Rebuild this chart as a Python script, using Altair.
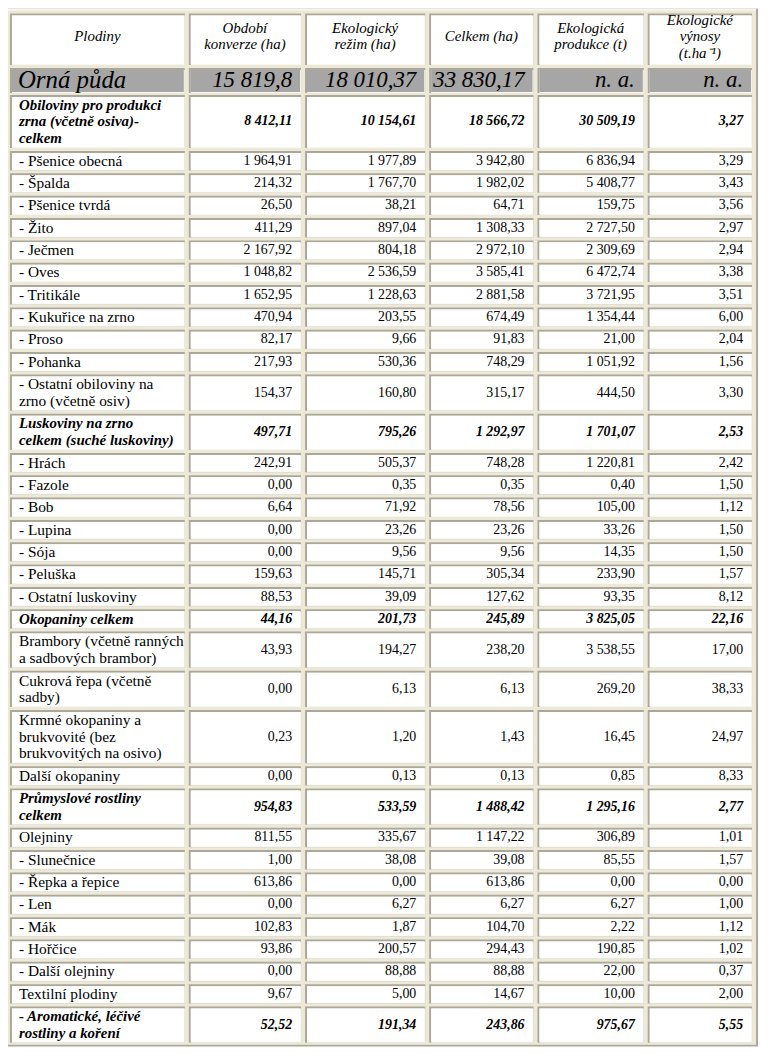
import altair as alt
import pandas as pd

# ---------------- data ----------------
headers = ["Plodiny", "Období\nkonverze  (ha)", "Ekologický\nrežim (ha)", "Celkem (ha)",
           "Ekologická\nprodukce (t)", "Ekologické\nvýnosy\n(t.ha⁻¹)"]

plodiny = [
    "Orná půda",
    "Obiloviny pro produkci\nzrna (včetně osiva)-\ncelkem",
    "- Pšenice obecná", "- Špalda", "- Pšenice tvrdá", "- Žito", "- Ječmen", "- Oves",
    "- Tritikále", "- Kukuřice na zrno", "- Proso", "- Pohanka",
    "- Ostatní obiloviny na\nzrno (včetně osiv)",
    "Luskoviny na zrno\ncelkem (suché luskoviny)",
    "- Hrách", "- Fazole", "- Bob", "- Lupina", "- Sója", "- Peluška", "- Ostatní luskoviny",
    "Okopaniny celkem",
    "Brambory (včetně ranných\na sadbových brambor)",
    "Cukrová řepa (včetně\nsadby)",
    "Krmné okopaniny a\nbrukvovité (bez\nbrukvovitých na osivo)",
    "Další okopaniny",
    "Průmyslové rostliny\ncelkem",
    "Olejniny", "- Slunečnice", "- Řepka a řepice", "- Len", "- Mák", "- Hořčice",
    "- Další olejniny", "Textilní plodiny",
    "- Aromatické, léčivé\nrostliny a koření",
]

# row kind: "celkem" = arable land total, "skupina" = subtotal, "polozka" = item
druh = (["celkem", "skupina"] + ["polozka"] * 11 + ["skupina"] + ["polozka"] * 7 +
        ["skupina"] + ["polozka"] * 4 + ["skupina"] + ["polozka"] * 8 + ["skupina"])

obdobi_konverze = ["15 819,8", "8 412,11", "1 964,91", "214,32", "26,50", "411,29", "2 167,92",
                   "1 048,82", "1 652,95", "470,94", "82,17", "217,93", "154,37", "497,71",
                   "242,91", "0,00", "6,64", "0,00", "0,00", "159,63", "88,53", "44,16",
                   "43,93", "0,00", "0,23", "0,00", "954,83", "811,55", "1,00", "613,86",
                   "0,00", "102,83", "93,86", "0,00", "9,67", "52,52"]

eko_rezim = ["18 010,37", "10 154,61", "1 977,89", "1 767,70", "38,21", "897,04", "804,18",
             "2 536,59", "1 228,63", "203,55", "9,66", "530,36", "160,80", "795,26",
             "505,37", "0,35", "71,92", "23,26", "9,56", "145,71", "39,09", "201,73",
             "194,27", "6,13", "1,20", "0,13", "533,59", "335,67", "38,08", "0,00",
             "6,27", "1,87", "200,57", "88,88", "5,00", "191,34"]

celkem_ha = ["33 830,17", "18 566,72", "3 942,80", "1 982,02", "64,71", "1 308,33", "2 972,10",
             "3 585,41", "2 881,58", "674,49", "91,83", "748,29", "315,17", "1 292,97",
             "748,28", "0,35", "78,56", "23,26", "9,56", "305,34", "127,62", "245,89",
             "238,20", "6,13", "1,43", "0,13", "1 488,42", "1 147,22", "39,08", "613,86",
             "6,27", "104,70", "294,43", "88,88", "14,67", "243,86"]

eko_produkce = ["n. a.", "30 509,19", "6 836,94", "5 408,77", "159,75", "2 727,50", "2 309,69",
                "6 472,74", "3 721,95", "1 354,44", "21,00", "1 051,92", "444,50", "1 701,07",
                "1 220,81", "0,40", "105,00", "33,26", "14,35", "233,90", "93,35", "3 825,05",
                "3 538,55", "269,20", "16,45", "0,85", "1 295,16", "306,89", "85,55", "0,00",
                "6,27", "2,22", "190,85", "22,00", "10,00", "975,67"]

eko_vynosy = ["n. a.", "3,27", "3,29", "3,43", "3,56", "2,97", "2,94", "3,38", "3,51", "6,00",
              "2,04", "1,56", "3,30", "2,53", "2,42", "1,50", "1,12", "1,50", "1,50", "1,57",
              "8,12", "22,16", "17,00", "38,33", "24,97", "8,33", "2,77", "1,01", "1,57",
              "0,00", "1,00", "1,12", "1,02", "0,37", "2,00", "5,55"]

value_cols = [obdobi_konverze, eko_rezim, celkem_ha, eko_produkce, eko_vynosy]

# ---------------- layout (page pixels) ----------------
OFF = 5                      # chart origin in page pixels
W, H = 760, 1050
COL_L = [10, 190, 307, 432, 541, 652]
COL_R = [186, 303, 428, 537, 648, 757]
FRAME = (5, 763, 5, 1050)
HEAD = (10, 62)
FIRST = (65, 90)
BODY_TOP = 92
ROW_BASE, LINE_H, GAP = 5.49, 17.0, 3
HEAD_LH = 16.5

rows = [HEAD, FIRST]
y = BODY_TOP
for lab in plodiny[1:]:
    n = lab.count("\n") + 1
    pitch = ROW_BASE + LINE_H * n
    rows.append((y, y + pitch - GAP))
    y += pitch

cells, texts = [], []
for r, (t, b) in enumerate(rows):
    kind = "hlavicka" if r == 0 else druh[r - 1]
    fill = "#a6a6a6" if kind == "celkem" else "#ffffff"
    for c in range(6):
        l, rr = COL_L[c], COL_R[c]
        cells.append(dict(x=l - OFF, x2=rr - OFF, y=t - OFF, y2=b - OFF,
                          lx=l + 2 - OFF, ly=t + 2 - OFF, ix2=rr - 1 - OFF, iy2=b - 1 - OFF,
                          fill=fill))
        cy = (t + b) / 2 - OFF
        if r == 0:
            txt = headers[c]
            n = txt.count("\n") + 1
            texts.append(dict(tx=(l + rr) / 2 - OFF, ty=cy - 3 - (n - 1) / 2 * HEAD_LH,
                              text=txt, kind="hlavicka"))
        elif c == 0:
            txt = plodiny[r - 1]
            n = txt.count("\n") + 1
            pad = 8 if kind == "celkem" else 9
            texts.append(dict(tx=l + pad - OFF, ty=cy - (n - 1) / 2 * LINE_H,
                              text=txt, kind=kind + "_lab"))
        else:
            texts.append(dict(tx=rr - 9 - OFF, ty=cy, text=value_cols[c - 1][r - 1],
                              kind=kind + "_val"))

cells_df = pd.DataFrame(cells)
texts_df = pd.DataFrame(texts)
frame_df = pd.DataFrame([dict(x=FRAME[0] - OFF, x2=FRAME[1] - OFF, y=FRAME[2] - OFF,
                              y2=FRAME[3] - OFF,
                              lx2=FRAME[1] - 2 - OFF, ly2=FRAME[3] - 2 - OFF,
                              ix=FRAME[0] + 2 - OFF, iy=FRAME[2] + 2 - OFF)])

xs = alt.Scale(domain=[0, W], range=[0, W], nice=False, zero=False)
ys = alt.Scale(domain=[0, H], range=[0, H], nice=False, zero=False)

DARK, LIGHT, BG = "#aca899", "#f7f6f0", "#ece9d8"
FONT = "Liberation Serif"

frame_dark = alt.Chart(frame_df).mark_rect(color=DARK).encode(
    x=alt.X("x:Q", scale=xs, axis=None), x2="x2", y=alt.Y("y:Q", scale=ys, axis=None), y2="y2")
frame_light = alt.Chart(frame_df).mark_rect(color=LIGHT).encode(
    x=alt.X("x:Q", scale=xs, axis=None), x2="lx2", y=alt.Y("y:Q", scale=ys, axis=None), y2="ly2")
frame_bg = alt.Chart(frame_df).mark_rect(color=BG).encode(
    x=alt.X("ix:Q", scale=xs, axis=None), x2="lx2", y=alt.Y("iy:Q", scale=ys, axis=None), y2="ly2")

cell_dark = alt.Chart(cells_df).mark_rect(color=DARK).encode(
    x=alt.X("x:Q", scale=xs, axis=None), x2="x2", y=alt.Y("y:Q", scale=ys, axis=None), y2="y2")
cell_light = alt.Chart(cells_df).mark_rect(color=LIGHT).encode(
    x=alt.X("lx:Q", scale=xs, axis=None), x2="x2", y=alt.Y("ly:Q", scale=ys, axis=None), y2="y2")
cell_in = alt.Chart(cells_df).mark_rect().encode(
    x=alt.X("lx:Q", scale=xs, axis=None), x2="ix2", y=alt.Y("ly:Q", scale=ys, axis=None), y2="iy2",
    color=alt.Color("fill:N", scale=None))


def text_layer(kind, align, size, style="normal", weight="normal", lh=LINE_H, font=FONT):
    return alt.Chart(texts_df).transform_filter(alt.datum.kind == kind).mark_text(
        align=align, baseline="middle", font=font, fontSize=size, fontStyle=style,
        fontWeight=weight, lineBreak="\n", lineHeight=lh, color="#000000"
    ).encode(x=alt.X("tx:Q", scale=xs, axis=None), y=alt.Y("ty:Q", scale=ys, axis=None),
             text="text:N")


layers = [
    frame_dark, frame_light, frame_bg, cell_dark, cell_light, cell_in,
    text_layer("hlavicka", "center", 15, "italic", lh=HEAD_LH),
    text_layer("celkem_lab", "left", 25, "italic"),
    text_layer("celkem_val", "right", 23, "italic"),
    text_layer("skupina_lab", "left", 15, "italic", "bold"),
    text_layer("skupina_val", "right", 14, "italic", "bold"),
    text_layer("polozka_lab", "left", 15.5),
    text_layer("polozka_val", "right", 14),
]

chart = alt.layer(*layers).properties(
    width=W, height=H, padding={"left": -3, "top": -3, "right": 0, "bottom": 0},
    background="#ffffff"
).configure_view(strokeWidth=0)

chart.save("out.html", embed_options={"renderer": "svg", "actions": False})
